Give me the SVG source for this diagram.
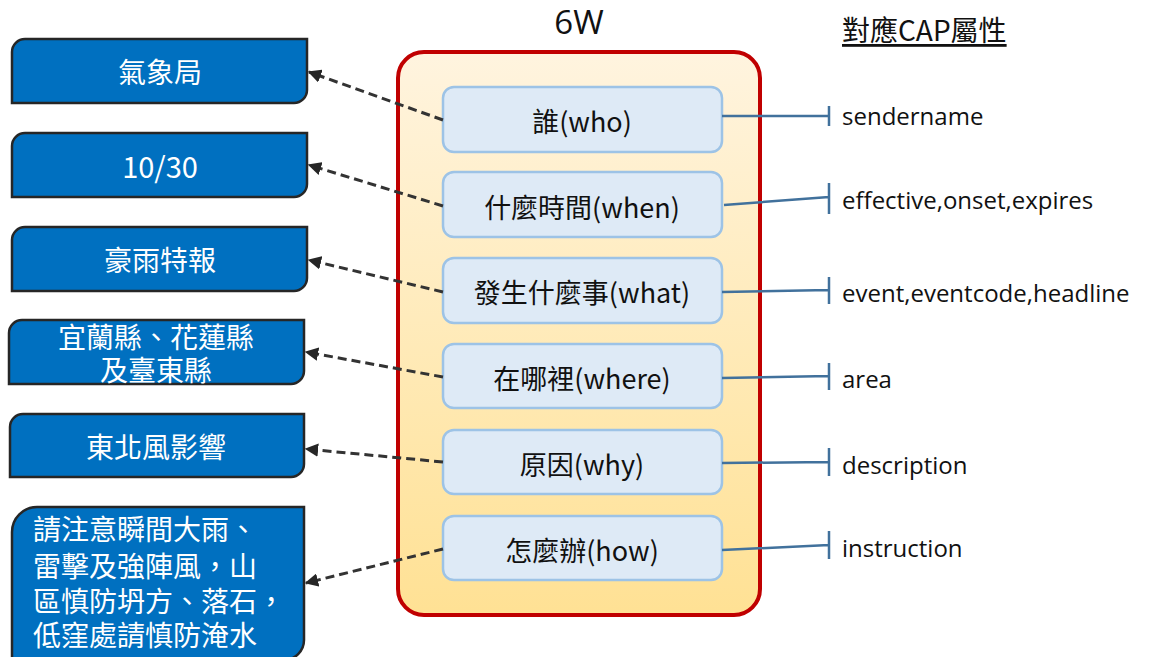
<svg xmlns="http://www.w3.org/2000/svg" width="1155" height="657" viewBox="0 0 1155 657">
<defs>
<linearGradient id="bg" x1="0" y1="0" x2="0" y2="1">
<stop offset="0" stop-color="#FFF4DF"/>
<stop offset="1" stop-color="#FFE194"/>
</linearGradient>
<marker id="ah" viewBox="0 0 10 10" refX="9" refY="5" markerWidth="4.5" markerHeight="4.5" orient="auto" markerUnits="strokeWidth">
<path d="M0,0 L10,5 L0,10 Z" fill="#262626"/>
</marker>
<style>
.src{fill:#0070C0;stroke:#262626;stroke-width:2.5}
.srct{fill:#FFFFFF;font-family:"Noto Sans CJK TC","Noto Sans",sans-serif;font-size:28px;text-anchor:middle;dominant-baseline:central}
.w{fill:#DEEAF6;stroke:#9DC3E6;stroke-width:2.5}
.wt{fill:#111;font-family:"Noto Sans CJK TC","Noto Sans",sans-serif;font-size:27px;text-anchor:middle;dominant-baseline:central}
.dash{stroke:#333;stroke-width:3;stroke-dasharray:9 5;fill:none;marker-end:url(#ah)}
.cap{stroke:#41719C;stroke-width:2.5;fill:none}
.capt{fill:#111;font-family:"Open Sans","Noto Sans",sans-serif;font-size:24px;dominant-baseline:central}
</style>
</defs>
<rect width="1155" height="657" fill="#FFFFFF"/>

<g id="title">
<text x="579" y="21" font-family="Open Sans, sans-serif" font-size="33" fill="#111" text-anchor="middle" dominant-baseline="central">6W</text>
<text x="842" y="29" font-family="Noto Sans CJK TC, sans-serif" font-size="28" fill="#111" dominant-baseline="central" text-decoration="underline">對應CAP屬性</text>
</g>

<g id="container">
<rect x="398" y="52" width="362" height="563" rx="26" fill="url(#bg)" stroke="#C00000" stroke-width="4"/>
</g>

<g id="src1"><path class="src" d="M12,52 A13,13 0 0 1 25,39 H307 V90 A13,13 0 0 1 294,103 H12 Z"/><text class="srct" x="160" y="71">氣象局</text></g>
<g id="src2"><path class="src" d="M12,146 A13,13 0 0 1 25,133 H307 V184 A13,13 0 0 1 294,197 H12 Z"/><text class="srct" x="160" y="165" style="font-size:29px">10/30</text></g>
<g id="src3"><path class="src" d="M12,240 A13,13 0 0 1 25,227 H307 V278 A13,13 0 0 1 294,291 H12 Z"/><text class="srct" x="160" y="259">豪雨特報</text></g>
<g id="src4"><path class="src" d="M9,333 A13,13 0 0 1 22,320 H304 V371 A13,13 0 0 1 291,384 H9 Z"/><text class="srct" x="156" y="336">宜蘭縣、花蓮縣</text><text class="srct" x="156" y="369">及臺東縣</text></g>
<g id="src5"><path class="src" d="M10,427 A13,13 0 0 1 23,414 H304 V464 A13,13 0 0 1 291,477 H10 Z"/><text class="srct" x="156" y="446">東北風影響</text></g>
<g id="src6"><path class="src" d="M12,532 A25,25 0 0 1 37,507 H304 V640 A20,20 0 0 1 284,660 H12 Z"/>
<text class="srct" x="33" y="528" style="text-anchor:start">請注意瞬間大雨、</text>
<text class="srct" x="33" y="565" style="text-anchor:start">雷擊及強陣風，山</text>
<text class="srct" x="33" y="600" style="text-anchor:start">區慎防坍方、落石，</text>
<text class="srct" x="33" y="634" style="text-anchor:start">低窪處請慎防淹水</text>
</g>

<g id="who"><rect class="w" x="443" y="87" width="279" height="65" rx="11"/><text class="wt" x="582" y="120">誰(who)</text></g>
<g id="when"><rect class="w" x="443" y="172" width="279" height="65" rx="11"/><text class="wt" x="582" y="206">什麼時間(when)</text></g>
<g id="what"><rect class="w" x="443" y="258" width="279" height="65" rx="11"/><text class="wt" x="582" y="291">發生什麼事(what)</text></g>
<g id="where"><rect class="w" x="443" y="344" width="279" height="64" rx="11"/><text class="wt" x="582" y="377">在哪裡(where)</text></g>
<g id="why"><rect class="w" x="443" y="430" width="279" height="64" rx="11"/><text class="wt" x="582" y="463">原因(why)</text></g>
<g id="how"><rect class="w" x="443" y="516" width="279" height="64" rx="11"/><text class="wt" x="582" y="549">怎麼辦(how)</text></g>

<g id="connectors">
<line class="dash" x1="443" y1="120" x2="309" y2="72"/>
<line class="dash" x1="443" y1="206" x2="309" y2="165"/>
<line class="dash" x1="443" y1="292" x2="309" y2="260"/>
<line class="dash" x1="443" y1="377" x2="306" y2="352"/>
<line class="dash" x1="443" y1="462" x2="306" y2="449"/>
<line class="dash" x1="443" y1="549" x2="306" y2="583"/>
<path class="cap" d="M722,116 H829 M829,106 V126"/>
<path class="cap" d="M724,205 L829,197 M829,183 V214"/>
<path class="cap" d="M722,292 L829,290 M829,277 V304"/>
<path class="cap" d="M722,378 L829,376 M829,363 V390"/>
<path class="cap" d="M722,463 L829,462 M829,448 V476"/>
<path class="cap" d="M722,550 L829,545 M829,531 V559"/>
</g>

<g id="labels">
<text class="capt" x="842" y="115">sendername</text>
<text class="capt" x="842" y="199">effective,onset,expires</text>
<text class="capt" x="842" y="292">event,eventcode,headline</text>
<text class="capt" x="842" y="378">area</text>
<text class="capt" x="842" y="464">description</text>
<text class="capt" x="842" y="547">instruction</text>
</g>
</svg>
